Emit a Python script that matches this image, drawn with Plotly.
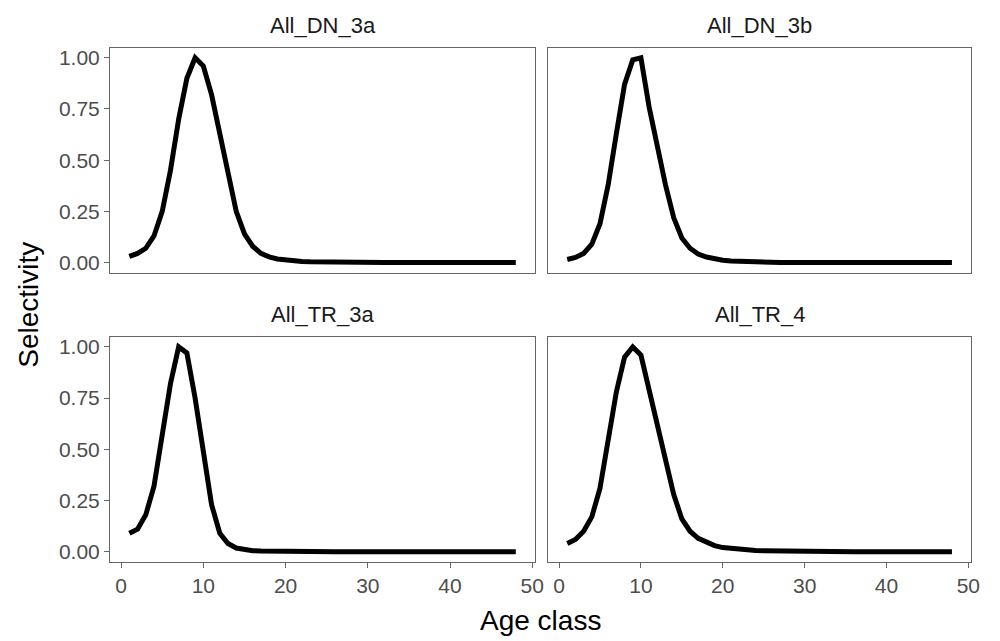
import plotly.graph_objects as go

ages = list(range(1, 49))

dn_3a = [0.03, 0.045, 0.07, 0.13, 0.25, 0.45, 0.70, 0.90, 1.00, 0.96,
         0.82, 0.62, 0.42, 0.25, 0.14, 0.08, 0.045, 0.028, 0.018, 0.012,
         0.008, 0.006, 0.004, 0.003, 0.002, 0.002, 0.001, 0.001, 0.001, 0.001,
         0.0, 0.0, 0.0, 0.0, 0.0, 0.0, 0.0, 0.0, 0.0, 0.0,
         0.0, 0.0, 0.0, 0.0, 0.0, 0.0, 0.0, 0.0]
dn_3b = [0.015, 0.025, 0.045, 0.09, 0.19, 0.38, 0.63, 0.87, 0.99, 1.00,
         0.76, 0.57, 0.38, 0.22, 0.12, 0.07, 0.042, 0.027, 0.018, 0.012,
         0.008, 0.006, 0.004, 0.003, 0.002, 0.002, 0.001, 0.001, 0.001, 0.001,
         0.0, 0.0, 0.0, 0.0, 0.0, 0.0, 0.0, 0.0, 0.0, 0.0,
         0.0, 0.0, 0.0, 0.0, 0.0, 0.0, 0.0, 0.0]
tr_3a = [0.09, 0.11, 0.18, 0.32, 0.57, 0.82, 1.00, 0.97, 0.75, 0.48,
         0.23, 0.09, 0.04, 0.018, 0.009, 0.005, 0.003, 0.002, 0.001, 0.001,
         0.0, 0.0, 0.0, 0.0, 0.0, 0.0, 0.0, 0.0, 0.0, 0.0,
         0.0, 0.0, 0.0, 0.0, 0.0, 0.0, 0.0, 0.0, 0.0, 0.0,
         0.0, 0.0, 0.0, 0.0, 0.0, 0.0, 0.0, 0.0]
tr_4 = [0.04, 0.06, 0.10, 0.17, 0.31, 0.54, 0.78, 0.95, 1.00, 0.96,
        0.79, 0.60, 0.43, 0.28, 0.16, 0.10, 0.065, 0.045, 0.03, 0.02,
        0.015, 0.01, 0.008, 0.006, 0.005, 0.004, 0.003, 0.002, 0.002, 0.001,
        0.001, 0.001, 0.001, 0.0, 0.0, 0.0, 0.0, 0.0, 0.0, 0.0,
        0.0, 0.0, 0.0, 0.0, 0.0, 0.0, 0.0, 0.0]

panel_names = ["All_DN_3a", "All_DN_3b", "All_TR_3a", "All_TR_4"]
panel_values = [dn_3a, dn_3b, tr_3a, tr_4]
x_ticks = [0, 10, 20, 30, 40, 50]
y_ticks = [0.0, 0.25, 0.5, 0.75, 1.0]
y_tick_labels = ["0.00", "0.25", "0.50", "0.75", "1.00"]

W, H = 1000, 641
x_domains = [(111 / W, 540 / W), (553 / W, 980 / W)]
y_domains = [(1 - 272.7 / H, 1 - 46.7 / H), (1 - 562.7 / H, 1 - 336.7 / H)]

FONT = "Liberation Sans, Arial, sans-serif"
BORDER = "#666666"
TICKTXT = "#4d4d4d"

fig = go.Figure()
layout = {}
annotations = []
for i, (name, vals) in enumerate(zip(panel_names, panel_values)):
    row, col = divmod(i, 2)
    idx = "" if i == 0 else str(i + 1)
    fig.add_trace(go.Scatter(x=ages, y=vals, mode="lines",
                             line=dict(color="black", width=5),
                             xaxis="x" + idx, yaxis="y" + idx,
                             showlegend=False, hoverinfo="x+y"))
    bottom = row == 1
    left = col == 0
    layout["xaxis" + idx] = dict(
        domain=list(x_domains[col]), anchor="y" + idx, range=[-1.35, 50.35],
        tickvals=x_ticks, showticklabels=bottom,
        ticks="outside" if bottom else "", ticklen=5, tickcolor=BORDER,
        tickfont=dict(family=FONT, size=21, color=TICKTXT),
        showgrid=False, zeroline=False, showline=True, mirror=True,
        linecolor=BORDER, linewidth=1)
    layout["yaxis" + idx] = dict(
        domain=list(y_domains[row]), anchor="x" + idx, range=[-0.05, 1.05],
        tickvals=y_ticks, ticktext=y_tick_labels, showticklabels=left,
        ticks="outside" if left else "", ticklen=5, tickcolor=BORDER,
        tickfont=dict(family=FONT, size=21, color=TICKTXT),
        showgrid=False, zeroline=False, showline=True, mirror=True,
        linecolor=BORDER, linewidth=1)
    annotations.append(dict(
        text=name, x=sum(x_domains[col]) / 2, y=y_domains[row][1],
        xref="paper", yref="paper", xanchor="center", yanchor="bottom",
        yshift=8, showarrow=False,
        font=dict(family=FONT, size=22, color="#1a1a1a")))

annotations.append(dict(text="Age class", x=(111 + 980) / 2 / W, y=1 - 621 / H,
                        xref="paper", yref="paper", xanchor="center",
                        yanchor="middle", showarrow=False,
                        font=dict(family=FONT, size=28, color="black")))
annotations.append(dict(text="Selectivity", x=28 / W, y=1 - 305 / H,
                        xref="paper", yref="paper", xanchor="center",
                        yanchor="middle", textangle=-90, showarrow=False,
                        font=dict(family=FONT, size=28, color="black")))

fig.update_layout(width=W, height=H, margin=dict(l=0, r=0, t=0, b=0),
                  paper_bgcolor="white", plot_bgcolor="white",
                  annotations=annotations, **layout)

fig.write_html("out.html")
